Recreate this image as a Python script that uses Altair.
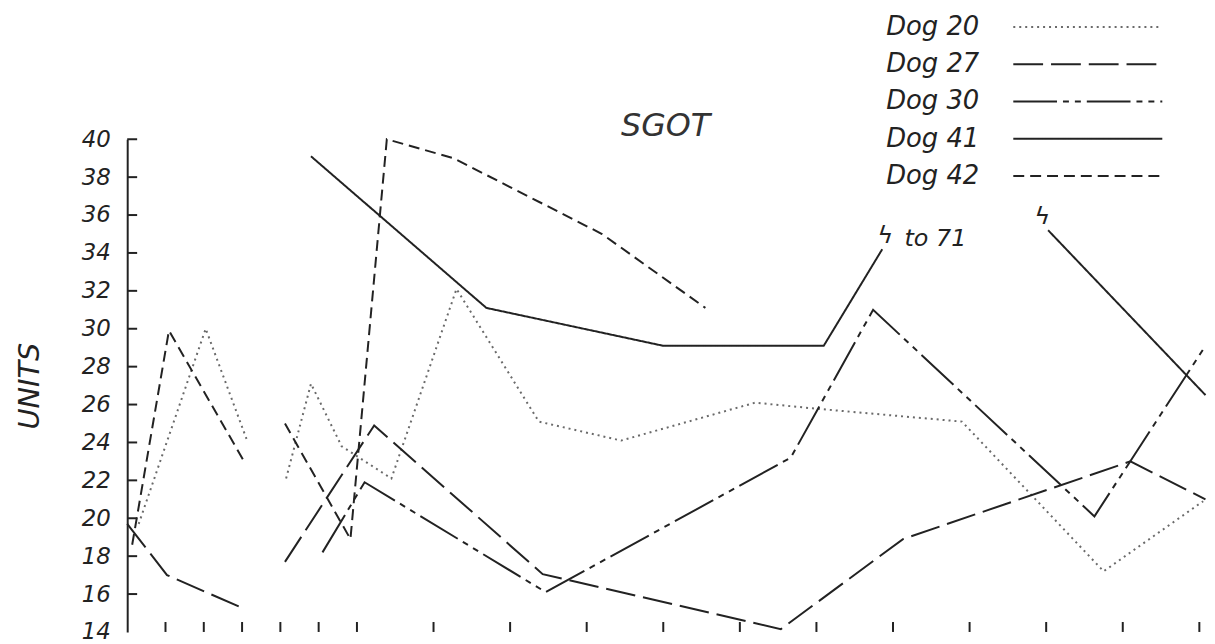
import altair as alt
import pandas as pd

# ---------------- data ----------------
dogs = ["Dog 20", "Dog 27", "Dog 30", "Dog 41", "Dog 42"]

dog20_a_x = [0.3, 2.05, 3.15]
dog20_a_y = [19.7, 30.0, 24.0]
dog20_b_x = [4.15, 4.8, 5.6, 6.9, 8.6, 10.75, 12.9, 16.4, 17.9, 21.8, 25.5, 28.1]
dog20_b_y = [22.1, 27.1, 23.8, 22.1, 32.1, 25.1, 24.1, 26.1, 25.8, 25.1, 17.2, 20.9]

dog27_a_x = [0.0, 1.04, 3.08]
dog27_a_y = [19.7, 17.0, 15.2]
dog27_b_x = [4.12, 6.45, 10.85, 17.07, 20.26, 26.2, 28.16]
dog27_b_y = [17.7, 24.9, 17.05, 14.15, 18.9, 23.0, 21.0]

dog30_b_x = [5.1, 6.2, 10.93, 17.33, 19.48, 25.26, 28.16]
dog30_b_y = [18.2, 21.9, 16.1, 23.2, 31.0, 20.1, 29.1]

dog41_b_x = [4.8, 9.38, 14.0, 18.19, 19.72]
dog41_b_y = [39.1, 31.1, 29.1, 29.1, 34.2]
dog41_c_x = [24.05, 28.16]
dog41_c_y = [35.2, 26.5]

dog42_a_x = [0.13, 1.09, 3.08]
dog42_a_y = [18.6, 29.9, 22.9]
dog42_b_x = [4.12, 5.83, 6.78, 8.52, 12.4, 15.1]
dog42_b_y = [25.0, 18.9, 40.0, 39.0, 35.0, 31.1]

y_tick_values = [16, 18, 20, 22, 24, 26, 28, 30, 32, 34, 36, 38, 40]
y_label_values = [14, 16, 18, 20, 22, 24, 26, 28, 30, 32, 34, 36, 38, 40]
x_tick_values = [1, 2, 3, 4, 5, 6, 8, 10, 12, 14, 16, 18, 20, 22, 24, 26, 28]

note_text = ["to 71"]
note_x = [20.3]
note_y = [34.75]
break_x = [19.8, 23.9]
break_y = [34.9, 35.9]

title_text = "SGOT"
y_title = "UNITS"

# ---------------- build tables ----------------
segments = [
    ("Dog 20", "20a", dog20_a_x, dog20_a_y),
    ("Dog 20", "20b", dog20_b_x, dog20_b_y),
    ("Dog 27", "27a", dog27_a_x, dog27_a_y),
    ("Dog 27", "27b", dog27_b_x, dog27_b_y),
    ("Dog 30", "30b", dog30_b_x, dog30_b_y),
    ("Dog 41", "41b", dog41_b_x, dog41_b_y),
    ("Dog 41", "41c", dog41_c_x, dog41_c_y),
    ("Dog 42", "42a", dog42_a_x, dog42_a_y),
    ("Dog 42", "42b", dog42_b_x, dog42_b_y),
]
rows = []
for dog, seg, xs, ys in segments:
    for xv, yv in zip(xs, ys):
        rows.append({"dog": dog, "seg": seg, "x": xv, "y": yv})
df = pd.DataFrame(rows)

FONT = "DejaVu Sans"
INK = "#222222"
W, H = 1087, 496

xscale = alt.Scale(domain=[0, 28.2], nice=False, zero=False)
yscale = alt.Scale(domain=[14, 40], nice=False, zero=False)

dash_scale = alt.Scale(domain=dogs, range=[[2, 4], [30, 8], [44, 6, 6, 6, 6, 6], [1, 0], [11, 6]])
color_scale = alt.Scale(domain=dogs, range=["#6a6a6a", INK, INK, INK, INK])

lines = alt.Chart(df).mark_line(strokeWidth=2).encode(
    x=alt.X("x:Q", scale=xscale, axis=alt.Axis(labels=False, ticks=False, tickSize=0, grid=False,
                                                  domainColor=INK, domainWidth=2, title=None)),
    y=alt.Y("y:Q", scale=yscale, axis=alt.Axis(values=y_label_values, ticks=False, tickSize=0, grid=False,
                                                  domainColor=INK, domainWidth=2,
                                                  labelFont=FONT, labelFontStyle="italic", labelFontSize=23,
                                                  labelColor=INK, labelPadding=17,
                                                  title=y_title, titleFont=FONT, titleFontStyle="italic",
                                                  titleFontSize=29, titleFontWeight="normal", titleColor=INK,
                                                  titleAngle=270, titleX=-89, titleY=H / 2,
                                                  titleAlign="center", titleBaseline="alphabetic")),
    color=alt.Color("dog:N", scale=color_scale, legend=None),
    strokeDash=alt.StrokeDash("dog:N", scale=dash_scale, legend=None),
    detail="seg:N",
)

ytick = alt.Chart(pd.DataFrame({"v": y_tick_values})).mark_rule(color=INK, strokeWidth=2).encode(
    y=alt.Y("v:Q", scale=yscale, axis=None), x=alt.value(0), x2=alt.value(10))

xtick = alt.Chart(pd.DataFrame({"v": x_tick_values})).mark_rule(color=INK, strokeWidth=2).encode(
    x=alt.X("v:Q", scale=xscale, axis=None), y=alt.value(H), y2=alt.value(H - 10))

notes = alt.Chart(pd.DataFrame({"x": note_x, "y": note_y, "t": note_text})).mark_text(
    align="left", baseline="middle", font=FONT, fontStyle="italic", fontSize=24, color=INK).encode(
    x=alt.X("x:Q", scale=xscale, axis=None), y=alt.Y("y:Q", scale=yscale, axis=None), text="t:N")

breaks = alt.Chart(pd.DataFrame({"x": break_x, "y": break_y, "t": ["ϟ", "ϟ"]})).mark_text(
    align="center", baseline="middle", font=FONT, fontSize=24, color=INK).encode(
    x=alt.X("x:Q", scale=xscale, axis=None), y=alt.Y("y:Q", scale=yscale, axis=None), text="t:N")

title = alt.Chart(pd.DataFrame({"t": [title_text]})).mark_text(
    align="center", baseline="alphabetic", font=FONT, fontStyle="italic", fontSize=32, color="#333333").encode(
    text="t:N", x=alt.value(542), y=alt.value(-3))

leg_df = pd.DataFrame({"dog": dogs})
leg_y = alt.Y("dog:N", scale=alt.Scale(type="point", domain=dogs, range=[-113, 37], padding=0), axis=None)
leg_text = alt.Chart(leg_df).mark_text(
    align="left", baseline="middle", font=FONT, fontStyle="italic", fontSize=26, color=INK).encode(
    y=leg_y, x=alt.value(764), text="dog:N")
leg_rule = alt.Chart(leg_df).mark_rule(strokeWidth=2).encode(
    y=leg_y, x=alt.value(892), x2=alt.value(1042),
    color=alt.Color("dog:N", scale=color_scale, legend=None),
    strokeDash=alt.StrokeDash("dog:N", scale=dash_scale, legend=None))

chart = alt.layer(lines, ytick, xtick, notes, breaks, title, leg_text, leg_rule).resolve_scale(
    y="independent"
).properties(
    width=W, height=H,
    autosize=alt.AutoSizeParams(type="none"),
    padding={"left": 120, "top": 130, "right": 0, "bottom": 10},
    background="white",
).configure_view(stroke=None)

chart.save("out.html", embed_options={"renderer": "svg", "actions": False})
